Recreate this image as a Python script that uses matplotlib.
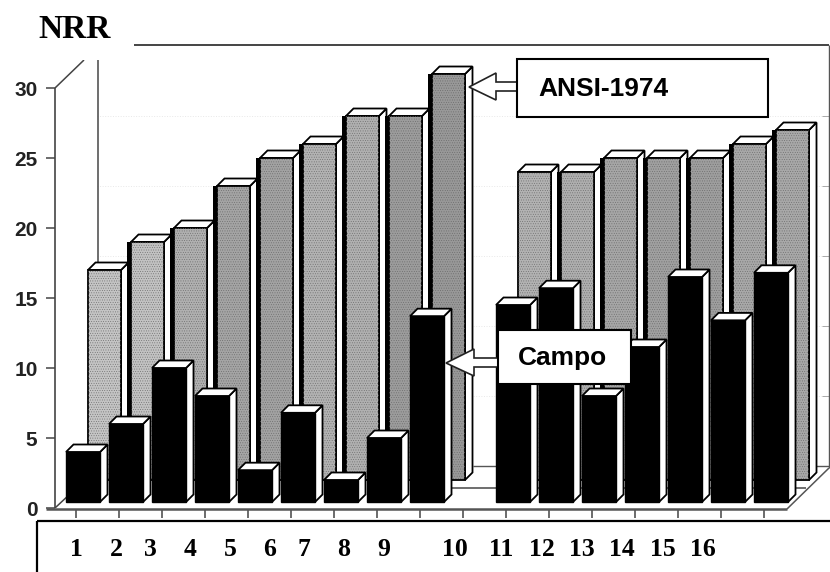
import matplotlib
matplotlib.use('Agg')
import matplotlib.pyplot as plt
from matplotlib.patches import Polygon, Rectangle
from matplotlib.transforms import Affine2D

W, H = 830, 572

# values
subjects = ['1', '2', '3', '4', '5', '6', '7', '8', '9', '10', '11', '12', '13', '14', '15', '16']
slots = [0, 1, 2, 3, 4, 5, 6, 7, 8, 10, 11, 12, 13, 14, 15, 16]
ansi_1974 = [17, 19, 20, 23, 25, 26, 28, 28, 31, 24, 24, 25, 25, 25, 26, 27]
campo = [4, 6, 10, 8, 2.7, 6.8, 2, 5, 13.7, 14.5, 15.7, 8, 11.5, 16.5, 13.4, 16.8]
y_ticks = [0, 5, 10, 15, 20, 25, 30]
label_px = [76, 116, 150, 190, 230, 270, 304, 344, 384, 455, 501, 542, 582, 622, 663, 703]
rear_greys = ['#c4c4c4', '#c2c2c2', '#b0b0b0', '#a4a4a4', '#a2a2a2', '#b2b2b2', '#b0b0b0', '#9c9c9c', '#989898',
              '#b2b2b2', '#aeaeae', '#a6a6a6', '#a0a0a0', '#9e9e9e', '#a8a8a8', '#a8a8a8']

PX_X = 43.0   # pixels per slot
PX_Y = 14.0   # pixels per NRR unit
X0 = 83.0     # pixel centre of the first front bar
Y0 = 508.0    # pixel of NRR = 0

plt.rcParams['hatch.linewidth'] = 0.3

fig = plt.figure(figsize=(W / 100, H / 100), dpi=100)
ax = fig.add_axes([0, 0, 1, 1])
ax.set_xlim(-X0 / PX_X, (W - X0) / PX_X)
ax.set_ylim((Y0 - H) / PX_Y, Y0 / PX_Y)
ax.axis('off')

# drawing furniture is placed in image pixels, y going down
pix = Affine2D().scale(1, -1).translate(0, H)


def line(xs, ys, color='#333333', lw=1.2, z=1, **kw):
    ax.plot(xs, ys, color=color, lw=lw, zorder=z, transform=pix, solid_capstyle='butt', clip_on=False, **kw)


# back wall and floor
for gy in [116, 186, 256, 326, 396]:
    line([97, 829], [gy, gy], color='#e8e8e8', lw=0.7, ls=':')
    line([822, 829], [gy, gy], color='#aaaaaa', lw=0.7)
line([134, 829], [45, 45], color='#444444', lw=1.4)
line([829, 829], [45, 468], color='#555555', lw=1.0)
line([97.5, 97.5], [60, 300], color='#555555', lw=1.2)
line([55, 84], [88, 60], color='#444444', lw=1.1)
line([55, 55], [88, 508], color='#444444', lw=1.2)
line([55, 70], [508, 494], color='#444444', lw=1.1)
line([473, 829], [465.5, 465.5], color='#555555', lw=1.0)
line([450, 806], [488, 488], color='#555555', lw=1.2)
line([46, 787], [509, 509], color='#555555', lw=1.8, z=6)
line([787, 829], [509, 468], color='#555555', lw=1.1)

# y axis
for v in y_ticks:
    y_px = Y0 - v * PX_Y
    line([46, 55], [y_px, y_px], color='#444444', lw=1.1)
    ax.text(37.5, y_px + 2, str(v), transform=pix, ha='right', va='center', fontsize=15,
            family='Liberation Sans', fontweight='bold', color='#222222')

# x ticks and label box
for k in range(17):
    tx = 76 + 43 * k
    line([tx, tx], [510, 518], color='#444444', lw=1.1)
line([37, 830], [521, 521], color='black', lw=1.6, z=6)
line([37, 37], [521, 572], color='black', lw=1.6, z=6)
for name, lx in zip(subjects, label_px):
    ax.text(lx, 549, name, transform=pix, ha='center', va='center', fontsize=18.5,
            family='Liberation Serif', fontweight='bold', color='black')


def box3d(pos, value, base, width, depth, z):
    # white top and side faces of a pseudo-3D column, in data coordinates
    dx = depth / PX_X
    dy = depth / PX_Y
    left, right = pos - width / 2, pos + width / 2
    side = [(right, base), (right + dx, base + dy), (right + dx, value + dy), (right, value)]
    top = [(left, value), (right, value), (right + dx, value + dy), (left + dx, value + dy)]
    ax.add_patch(Polygon(side, fc='white', ec='black', lw=1.3, zorder=z))
    ax.add_patch(Polygon(top, fc='white', ec='black', lw=1.3, zorder=z))


# rear row
rear_shift = 21.5 / PX_X
rear_w = 33 / PX_X
rear_base = 2.0
for s, v, c in zip(slots, ansi_1974, rear_greys):
    pos = s + rear_shift
    box3d(pos, v, rear_base, rear_w, 7.5, 2)
    ax.bar(pos, v - rear_base, bottom=rear_base, width=rear_w, color=c, edgecolor='black', lw=1.3, zorder=3)
    ax.bar(pos, v - rear_base, bottom=rear_base, width=rear_w, color='none', edgecolor='#666666', lw=0,
           hatch='.......', zorder=3)
    # dark shadow strip left of each column, not on the first of a group
    if s not in (0, 10):
        ax.bar(pos - rear_w / 2 - 2 / PX_X, v - rear_base, bottom=rear_base, width=4 / PX_X,
               color='black', zorder=3)

# front row
front_w = 34 / PX_X
front_base = 6 / PX_Y
for s, v in zip(slots, campo):
    box3d(s, v, front_base, front_w, 7.5, 4)
    ax.bar(s, v - front_base, bottom=front_base, width=front_w, color='black', edgecolor='black', lw=1, zorder=5)


# callouts
def callout(x0, y0, x1, y1, text, tx, arrow):
    ax.add_patch(Rectangle((x0, y0), x1 - x0, y1 - y0, fc='white', ec='black', lw=1.5, transform=pix, zorder=8))
    ax.text(tx, (y0 + y1) / 2 + 0.5, text, transform=pix, ha='left', va='center', fontsize=19,
            family='Liberation Sans', fontweight='bold', color='black', zorder=9)
    ax.add_patch(Polygon(arrow, fc='white', ec='#222222', lw=1.2, transform=pix, zorder=7))


callout(517, 59, 768, 117, 'ANSI-1974', 538,
        [(469, 87), (496, 73), (496, 82), (518, 82), (518, 91), (496, 91), (496, 100)])
callout(498, 330, 631, 384, 'Campo', 518,
        [(446, 363), (474, 349), (474, 358), (499, 358), (499, 367), (474, 367), (474, 376)])

# axis title sits on a white patch that hides the top of the frame
ax.add_patch(Rectangle((0, 0), 134, 60, fc='white', ec='none', transform=pix, zorder=6))
ax.text(74.5, 30, 'NRR', transform=pix, ha='center', va='center', fontsize=24,
        family='Liberation Serif', fontweight='bold', color='black', zorder=7)

fig.savefig('out.png', dpi=100)
